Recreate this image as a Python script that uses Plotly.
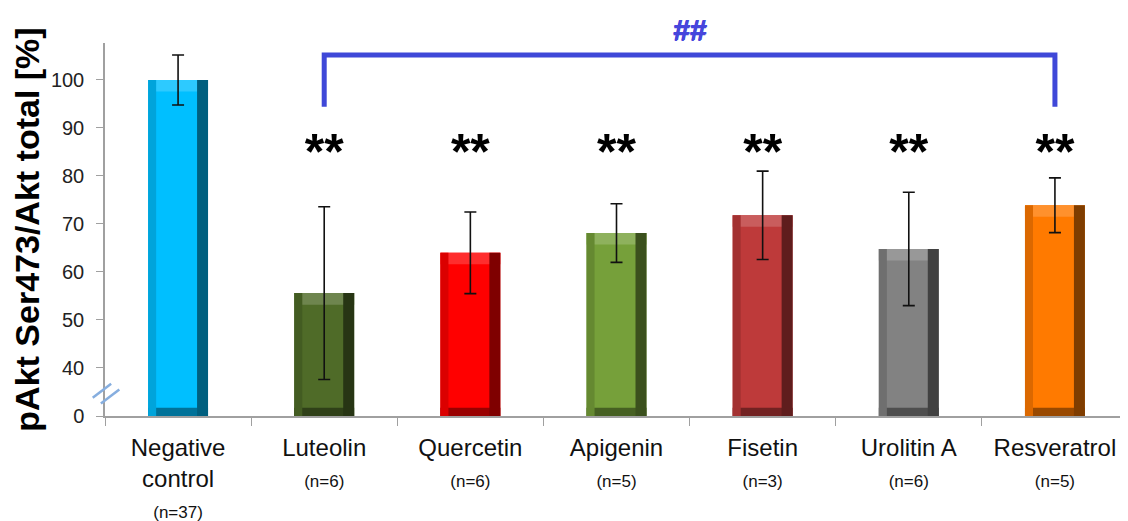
import plotly.graph_objects as go

# ---------------- data ----------------
categories = ["Negative control", "Luteolin", "Quercetin", "Apigenin",
              "Fisetin", "Urolitin A", "Resveratrol"]
category_lines = ["Negative<br>control", "Luteolin", "Quercetin", "Apigenin",
                  "Fisetin", "Urolitin A", "Resveratrol"]
n_labels = ["(n=37)", "(n=6)", "(n=6)", "(n=5)", "(n=3)", "(n=6)", "(n=5)"]
values = [100.0, 55.6, 64.0, 68.1, 71.8, 64.8, 73.9]
errors = [5.2, 18.0, 8.5, 6.1, 9.2, 11.8, 5.7]
significance = ["", "**", "**", "**", "**", "**", "**"]
y_tick_vals = [30, 40, 50, 60, 70, 80, 90, 100]
y_tick_text = ["0", "40", "50", "60", "70", "80", "90", "100"]
bar_colors = ["#00BFFF", "#4F6B28", "#FF0000", "#76A03A", "#BE3A3A", "#828282", "#FF7A00"]
bracket_label = "##"

# ---------------- styling helpers ----------------
AXIS_BASE = 30          # the broken axis: value 30 is drawn as "0"
Y_MAX = 107.7
BAR_W = 0.41
FONT = "Arial, 'Liberation Sans', sans-serif"


def shade(hex_color, f):
    h = hex_color.lstrip("#")
    r, g, b = (int(h[i:i + 2], 16) for i in (0, 2, 4))
    if f < 1:
        r, g, b = (int(c * f) for c in (r, g, b))
    else:
        t = f - 1
        r, g, b = (int(c + (255 - c) * t) for c in (r, g, b))
    return f"rgb({r},{g},{b})"


heights = [v - AXIS_BASE for v in values]
fig = go.Figure()

# main face
fig.add_trace(go.Bar(x=categories, y=heights, base=AXIS_BASE, width=BAR_W, offset=-BAR_W / 2,
                     marker=dict(color=bar_colors, line=dict(width=0)), hoverinfo="skip"))
# top bevel
top_h = 2.4
fig.add_trace(go.Bar(x=categories, y=[top_h] * len(values), base=[v - top_h for v in values],
                     width=BAR_W, offset=-BAR_W / 2,
                     marker=dict(color=[shade(c, 1.18) for c in bar_colors], line=dict(width=0)),
                     hoverinfo="skip"))
# bottom bevel
bot_h = 1.7
fig.add_trace(go.Bar(x=categories, y=[bot_h] * len(values), base=AXIS_BASE,
                     width=BAR_W, offset=-BAR_W / 2,
                     marker=dict(color=[shade(c, 0.6) for c in bar_colors], line=dict(width=0)),
                     hoverinfo="skip"))
# left bevel
left_w = 0.055
fig.add_trace(go.Bar(x=categories, y=heights, base=AXIS_BASE, width=left_w, offset=-BAR_W / 2,
                     marker=dict(color=[shade(c, 0.86) for c in bar_colors], line=dict(width=0)),
                     hoverinfo="skip"))
# right bevel
right_w = 0.075
fig.add_trace(go.Bar(x=categories, y=heights, base=AXIS_BASE, width=right_w,
                     offset=BAR_W / 2 - right_w,
                     marker=dict(color=[shade(c, 0.5) for c in bar_colors], line=dict(width=0)),
                     hoverinfo="skip"))

# error bars
fig.add_trace(go.Scatter(x=categories, y=values, mode="markers",
                         marker=dict(size=1, opacity=0),
                         error_y=dict(type="data", array=errors, color="#111111",
                                      thickness=1.6, width=6),
                         hoverinfo="skip"))

# significance stars
STAR_LEVEL = 84.0
star_x = [c for c, s in zip(categories, significance) if s]
star_t = [f"<b>{s}</b>" for s in significance if s]
fig.add_trace(go.Scatter(x=star_x, y=[STAR_LEVEL] * len(star_x), mode="text", text=star_t,
                         textposition="middle center",
                         textfont=dict(family=FONT, size=50, color="#000000"),
                         cliponaxis=False, hoverinfo="skip"))

# bracket Luteolin ... Resveratrol
BR_LOW, BR_HIGH = 94.4, 105.2
fig.add_trace(go.Scatter(x=[categories[1], categories[1], categories[-1], categories[-1]],
                         y=[BR_LOW, BR_HIGH, BR_HIGH, BR_LOW], mode="lines",
                         line=dict(color="#3F48D8", width=5), cliponaxis=False,
                         hoverinfo="skip"))
fig.add_annotation(x=3.5, y=1.037, xref="x", yref="paper", yanchor="middle",
                   text=f"<b>{bracket_label}</b>", showarrow=False,
                   font=dict(family=FONT, size=30, color="#4646DC",
                             shadow="1px 0px 0px #4646DC, 0px 1px 0px #4646DC"))

# axis-break marks
for (x0, y0, x1, y1) in [(-0.012, 33.8, 0.006, 36.7), (-0.004, 32.6, 0.014, 35.5)]:
    fig.add_shape(type="line", xref="paper", yref="y", x0=x0, y0=y0, x1=x1, y1=y1,
                  line=dict(color="#86AEDF", width=2.5))

ticktext = [f"{c}<br><span style='font-size:17px'>{n}</span>"
            for c, n in zip(category_lines, n_labels)]

# the page body has an 8px margin, so the figure is sized to fit the window
fig.update_layout(
    width=1120, height=513,
    margin=dict(l=97, r=0, t=35, b=105),
    paper_bgcolor="white", plot_bgcolor="white",
    barmode="overlay", showlegend=False,
    font=dict(family=FONT, color="#111111"),
    xaxis=dict(tickmode="array", tickvals=categories, ticktext=ticktext, automargin=False,
               tickson="boundaries", ticks="outside", ticklen=8, tickcolor="#A0A0A0",
               ticklabelstandoff=9,
               showline=True, linecolor="#A0A0A0", linewidth=1.5, showgrid=False,
               tickfont=dict(family=FONT, size=24, color="#111111")),
    yaxis=dict(range=[AXIS_BASE, Y_MAX], tickmode="array", tickvals=y_tick_vals,
               ticktext=y_tick_text, ticks="outside", ticklen=7, tickcolor="#A0A0A0",
               ticklabelstandoff=8,
               showline=True, linecolor="#A0A0A0", linewidth=1.5, showgrid=False,
               zeroline=False, automargin=False,
               tickfont=dict(family=FONT, size=20, color="#222222"),
               title=dict(text="<b>pAkt Ser473/Akt total [%]</b>", standoff=4,
                          font=dict(family=FONT, size=34, color="#000000"))),
)

fig.write_html("out.html")
